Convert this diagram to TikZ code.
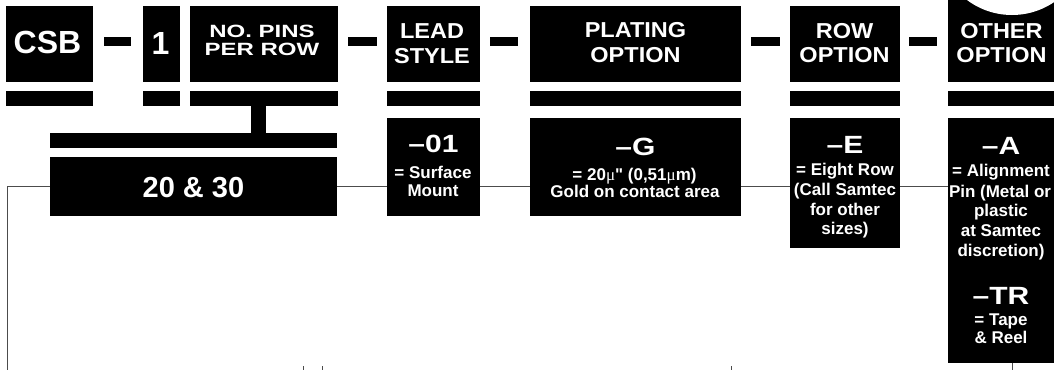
\documentclass[tikz,border=0pt]{standalone}
\usepackage{fontspec}
\usepackage{graphicx}
\setmainfont{Liberation Sans}
\newfontfamily\muf{Liberation Serif}
\newfontfamily\qf[Ligatures=TeXOff]{Liberation Sans}
\newcommand\hdr[1]{\scalebox{1}[0.92]{\fontsize{23.5}{24}\selectfont #1}}
\newcommand\hdrsq[1]{\scalebox{1}[0.74]{\fontsize{24}{24}\selectfont #1}}
\newcommand\code[1]{\scalebox{1}[0.83]{\fontsize{30}{30}\selectfont #1}}
\newcommand\dsc[1]{{\fontsize{17}{17}\selectfont #1}}
\tikzset{
  blk/.style={fill=black, draw=none, inner sep=0pt, outer sep=0pt},
  txt/.style={text=white, inner sep=0pt, anchor=base, font=\bfseries},
  conn/.style={draw=black!70, line width=1pt},
}
\begin{document}
\begin{tikzpicture}[x=1pt,y=-1pt]
\useasboundingbox[fill=white] (0,0) rectangle (1057,370);
% header boxes
\node[blk, minimum width=87pt, minimum height=76pt] (csb) at (49.5,44) {};
\node[blk, minimum width=37pt, minimum height=76pt] (one) at (161.5,44) {};
\node[blk, minimum width=148pt, minimum height=76pt] (pins) at (264,44) {};
\node[blk, minimum width=93pt, minimum height=76pt] (lead) at (433.5,44) {};
\node[blk, minimum width=211pt, minimum height=76pt] (plat) at (635.5,44) {};
\node[blk, minimum width=110pt, minimum height=76pt] (row) at (845,44) {};
\node[blk, minimum width=106pt, minimum height=82pt] (oth) at (1001,41) {};
\fill[white] (1012,-60) circle (75);
% dashes
\node[blk, minimum width=27pt, minimum height=9pt] (d1) at (117.5,41.5) {};
\node[blk, minimum width=29pt, minimum height=9pt] (d2) at (362.5,41.5) {};
\node[blk, minimum width=28pt, minimum height=9pt] (d3) at (504,41.5) {};
\node[blk, minimum width=29pt, minimum height=9pt] (d4) at (765.5,41.5) {};
\node[blk, minimum width=28pt, minimum height=9pt] (d5) at (923,41.5) {};
% under bars
\node[blk, minimum width=87pt, minimum height=15pt] (bcsb) at (49.5,98.5) {};
\node[blk, minimum width=37pt, minimum height=15pt] (bone) at (161.5,98.5) {};
\node[blk, minimum width=148pt, minimum height=15pt] (bpins) at (264,98.5) {};
\node[blk, minimum width=93pt, minimum height=15pt] (blead) at (433.5,98.5) {};
\node[blk, minimum width=211pt, minimum height=15pt] (bplat) at (635.5,98.5) {};
\node[blk, minimum width=110pt, minimum height=15pt] (brow) at (845,98.5) {};
\node[blk, minimum width=106pt, minimum height=15pt] (both) at (1001,98.5) {};
\node[blk, minimum width=15pt, minimum height=28pt] (stem) at (258.5,119.5) {};
\node[blk, minimum width=287pt, minimum height=15pt] (wide) at (193.5,140.5) {};
% option boxes
\node[blk, minimum width=287pt, minimum height=59pt] (b20) at (193.5,186.5) {};
\node[blk, minimum width=93pt, minimum height=98pt] (b01) at (433.5,167) {};
\node[blk, minimum width=211pt, minimum height=98pt] (bG) at (635.5,167) {};
\node[blk, minimum width=110pt, minimum height=130pt] (bE) at (845,183) {};
\node[blk, minimum width=106pt, minimum height=245pt] (bA) at (1001,240.5) {};
% connectors
\coordinate (cy) at (0,186);
\coordinate (lend) at (7,370);
\draw[conn] (b20.west |- cy) -- (lend |- cy) -- (lend);
\draw[conn] (b20.east |- cy) -- (b01.west |- cy);
\draw[conn] (b01.east |- cy) -- (bG.west |- cy);
\draw[conn] (bG.east |- cy) -- (bE.west |- cy);
\draw[conn] (bE.east |- cy) -- (bA.west |- cy);
\coordinate (t1a) at (303,366); \coordinate (t1b) at (303,370);
\coordinate (t2a) at (322,366); \coordinate (t2b) at (322,370);
\coordinate (t3a) at (731,366); \coordinate (t3b) at (731,370);
\coordinate (t4) at (1012,370);
\draw[conn] (t1a) -- (t1b);
\draw[conn] (t2a) -- (t2b);
\draw[conn] (t3a) -- (t3b);
\draw[conn] (bA.south -| t4) -- (t4);
% header texts
\node[txt] (tcsb) at (47.5,53.5) {\fontsize{32}{32}\selectfont CSB};
\node[txt] (tone) at (160.5,54) {\fontsize{32}{32}\selectfont 1};
\node[txt] (tpins1) at (262,37) {\hdrsq{NO. PINS}};
\node[txt] (tpins2) at (262,55) {\hdrsq{PER ROW}};
\node[txt] (tlead1) at (432,38) {\hdr{LEAD}};
\node[txt] (tlead2) at (432,63) {\hdr{STYLE}};
\node[txt] (tplat1) at (635.5,37.7) {\hdr{PLATING}};
\node[txt] (tplat2) at (635.5,62.5) {\hdr{OPTION}};
\node[txt] (trow1) at (844.5,38.3) {\hdr{ROW}};
\node[txt] (trow2) at (844.5,62.7) {\hdr{OPTION}};
\node[txt] (toth1) at (1001.5,38.3) {\hdr{OTHER}};
\node[txt] (toth2) at (1001.5,62.7) {\hdr{OPTION}};
% option texts
\node[txt] (t20) at (193.5,197.3) {\fontsize{29}{29}\selectfont 20 \& 30};
\node[txt] (c01) at (433.5,152.7) {\code{\textendash01}};
\node[txt] (s01a) at (433,178) {\dsc{= Surface}};
\node[txt] (s01b) at (433,196) {\dsc{Mount}};
\node[txt] (cG) at (635.5,155) {\code{\textendash G}};
\node[txt] (sGa) at (634.5,180) {\dsc{= 20{\muf\mdseries μ}{\qf"} (0,51{\muf\mdseries μ}m)}};
\node[txt] (sGb) at (635,197.3) {\dsc{Gold on contact area}};
\node[txt] (cE) at (845,153) {\code{\textendash E}};
\node[txt] (sEa) at (845,175) {\dsc{= Eight Row}};
\node[txt] (sEb) at (845,195) {\dsc{(Call Samtec}};
\node[txt] (sEc) at (845,215) {\dsc{for other}};
\node[txt] (sEd) at (845,234) {\dsc{sizes)}};
\node[txt] (cA) at (1001,154) {\code{\textendash A}};
\node[txt] (sAa) at (1001,176.7) {\dsc{= Alignment}};
\node[txt] (sAb) at (1000,197) {\dsc{Pin (Metal or}};
\node[txt] (sAc) at (1001,216.5) {\dsc{plastic}};
\node[txt] (sAd) at (1001,236) {\dsc{at Samtec}};
\node[txt] (sAe) at (1001,256) {\dsc{discretion)}};
\node[txt] (cTR) at (1001,304) {\code{\textendash TR}};
\node[txt] (sTa) at (1001,325) {\dsc{= Tape}};
\node[txt] (sTb) at (1001,343.3) {\dsc{\& Reel}};
\end{tikzpicture}
\end{document}
